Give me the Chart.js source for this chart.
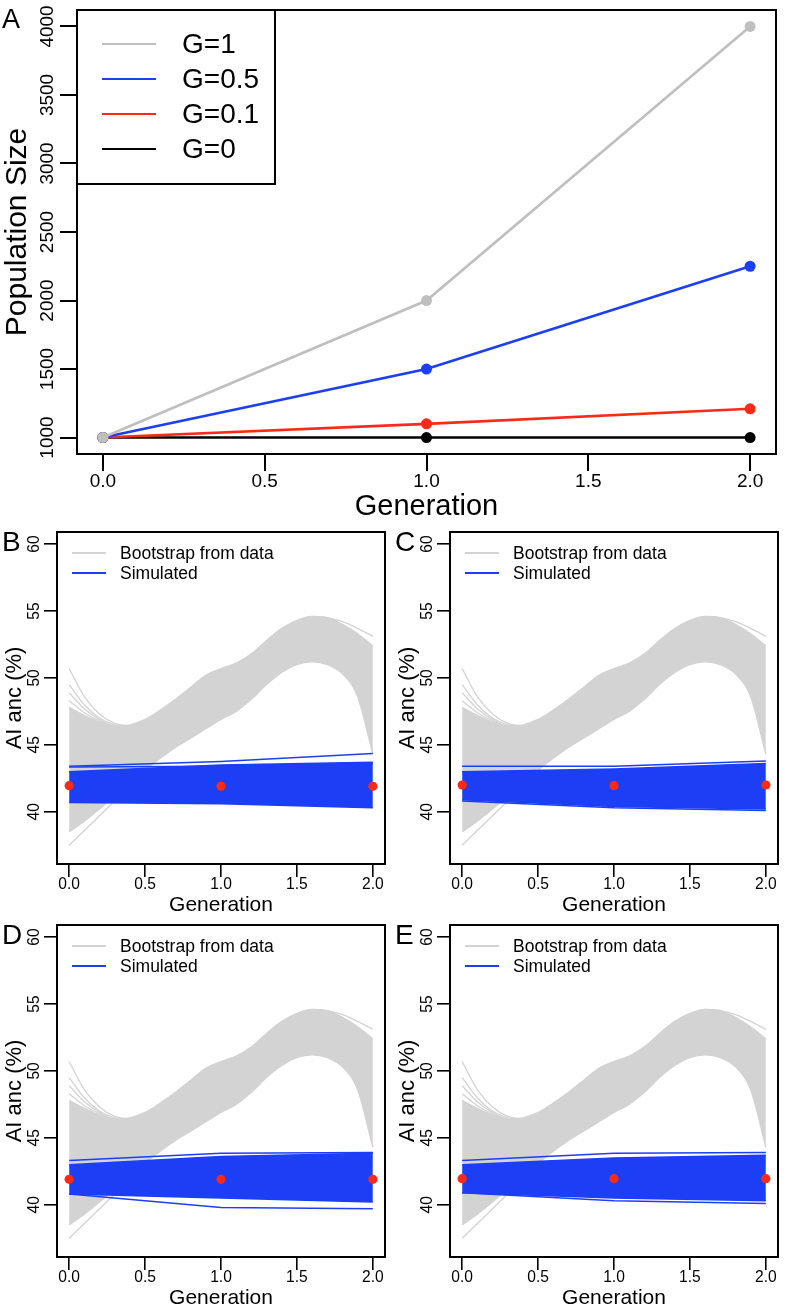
<!DOCTYPE html>
<html><head><meta charset="utf-8">
<script src="https://cdn.jsdelivr.net/npm/chart.js@4.4.1/dist/chart.umd.min.js"></script>
<style>
html,body{margin:0;padding:0;background:#fff;}
body{width:786px;height:1310px;position:relative;overflow:hidden;}
canvas{position:absolute;}
</style></head>
<body>
<canvas id="cA" width="786" height="521" style="left:0;top:0"></canvas>
<canvas id="cB" width="393" height="397" style="left:0;top:520px"></canvas>
<canvas id="cC" width="393" height="397" style="left:393px;top:520px"></canvas>
<canvas id="cD" width="393" height="397" style="left:0;top:913px"></canvas>
<canvas id="cE" width="393" height="397" style="left:393px;top:913px"></canvas>
<script>
// ---------- Panel A data ----------
const generations = [0, 1, 2];
const popG1  = [1000, 2000, 4000];
const popG05 = [1000, 1500, 2250];
const popG01 = [1000, 1100, 1210];
const popG0  = [1000, 1000, 1000];
const popTicks = [1000, 1500, 2000, 2500, 3000, 3500, 4000];
const genTicks = [0, 0.5, 1, 1.5, 2];
const legendA = ['G=1', 'G=0.5', 'G=0.1', 'G=0'];

// ---------- Panels B-E data ----------
const ancTicks = [40, 45, 50, 55, 60];
const legendSmall = ['Bootstrap from data', 'Simulated'];
// bootstrap band envelope
const bootX     = [0, 0.1, 0.2, 0.3, 0.4, 0.5, 0.6, 0.7, 0.8, 0.9, 1.0, 1.1, 1.2, 1.3, 1.4, 1.5, 1.6, 1.7, 1.8, 1.9, 2.0];
const bootUpper = [47.8, 47.2, 46.7, 46.4, 46.5, 46.9, 47.6, 48.4, 49.3, 50.2, 50.7, 51.1, 51.8, 52.8, 53.7, 54.3, 54.6, 54.5, 54.0, 53.3, 52.4];
const bootLower = [38.5, 39.3, 40.2, 41.2, 42.2, 43.1, 44.0, 44.8, 45.5, 46.2, 46.9, 47.5, 48.4, 49.5, 50.4, 51.0, 51.2, 51.0, 50.3, 48.6, 44.3];
// individual bootstrap curves standing out of the band
const fanX  = [0, 0.1, 0.2, 0.3, 0.4];
const fan1  = [50.7, 48.6, 47.3, 46.6, 46.4];
const fan2  = [49.5, 48.0, 47.0, 46.5, 46.4];
const fan3  = [48.9, 47.7, 46.9, 46.4, 46.4];
const fan4  = [48.3, 47.4, 46.8, 46.4, 46.4];
const lowX  = [0, 0.1, 0.2, 0.3, 0.4, 0.5];
const low1  = [37.5, 38.6, 39.7, 40.8, 41.9, 43.0];
const tailX = [1.6, 1.7, 1.8, 1.9, 2.0];
const tail1 = [54.6, 54.5, 54.2, 53.7, 53.1];

// simulated bands (x = generations)
const simB_upper = [43.0, 43.5, 43.7];
const simB_lower = [40.7, 40.6, 40.3];
const simB_out1  = [43.4, 43.75, 44.35];
const simB_out2  = [43.35, 43.4, 43.6];
const obsB       = [41.95, 41.9, 41.9];

const simC_upper = [43.0, 43.2, 43.6];
const simC_lower = [40.9, 40.4, 40.2];
const simC_out1  = [43.4, 43.4, 43.8];
const simC_out2  = [40.8, 40.3, 40.1];
const obsC       = [42.0, 41.95, 42.0];

const simD_upper = [43.0, 43.6, 43.85];
const simD_lower = [40.8, 40.5, 40.2];
const simD_out1  = [43.3, 43.85, 43.9];
const simD_out2  = [40.8, 39.8, 39.7];
const obsD       = [41.9, 41.9, 41.9];

const simE_upper = [43.0, 43.5, 43.7];
const simE_lower = [40.9, 40.5, 40.3];
const simE_out1  = [43.3, 43.85, 43.9];
const simE_out2  = [40.9, 40.3, 40.1];
const obsE       = [41.95, 41.95, 41.95];

// ---------- styling ----------
const FONT = "'Liberation Sans', Arial, Helvetica, sans-serif";
const GRAY_A = '#bfbfbf';
const GRAY_B = '#d3d3d3';
const BLUE = '#1c3ef5';
const RED = '#fb2a16';
const BLACK = '#000000';

const pts = (xs, ys) => xs.map((x, i) => ({x, y: ys[i]}));
const fixTicks = arr => (scale) => { scale.ticks = arr.map(v => ({value: v})); };
// later datasets in the list are painted on top
const stack = list => list.map((d, i) => Object.assign(d, {order: list.length - i}));

// ---------- Panel A ----------
function lineA(label, ys, color) {
  return {label, data: pts(generations, ys), borderColor: color, backgroundColor: color,
    borderWidth: 2.6, pointRadius: 5.5, pointBorderWidth: 0, pointBackgroundColor: color,
    tension: 0, fill: false};
}
const colorsA = {'G=1': GRAY_A, 'G=0.5': BLUE, 'G=0.1': RED, 'G=0': BLACK};

const decorA = {
  id: 'decorA',
  afterDraw(chart) {
    const {ctx, chartArea: a} = chart;
    ctx.save();
    ctx.strokeStyle = BLACK; ctx.lineWidth = 2;
    ctx.strokeRect(a.left, a.top, a.right - a.left, a.bottom - a.top);
    // legend box
    ctx.fillStyle = '#fff';
    ctx.fillRect(a.left, a.top, 198, 174);
    ctx.strokeRect(a.left, a.top, 198, 174);
    ctx.font = `28px ${FONT}`;
    ctx.textBaseline = 'middle';
    legendA.forEach((lab, i) => {
      const y = 44 + i * 35;
      ctx.strokeStyle = colorsA[lab]; ctx.lineWidth = 2.2;
      ctx.beginPath(); ctx.moveTo(102, y); ctx.lineTo(156, y); ctx.stroke();
      ctx.fillStyle = BLACK;
      ctx.fillText(lab, 182, y + 1);
    });
    ctx.font = `27px ${FONT}`;
    ctx.fillText('A', 2, 21);
    ctx.restore();
  }
};

new Chart(document.getElementById('cA'), {
  type: 'line',
  data: {datasets: stack([lineA('G=0', popG0, BLACK), lineA('G=0.1', popG01, RED), lineA('G=0.5', popG05, BLUE), lineA('G=1', popG1, GRAY_A)])},
  options: {
    responsive: false, animation: false, events: [],
    layout: {padding: {left: 0, top: 10, right: 10, bottom: 0}},
    plugins: {legend: {display: false}, tooltip: {enabled: false}},
    scales: {
      x: {type: 'linear', min: -0.08, max: 2.08,
        afterBuildTicks: fixTicks(genTicks),
        afterFit: s => { s.height = 67; },
        grid: {drawOnChartArea: false, drawTicks: true, tickLength: 17, color: BLACK, lineWidth: 2},
        border: {display: false},
        ticks: {autoSkip: false, maxRotation: 0, color: BLACK, padding: 1.5,
          font: {family: FONT, size: 19, lineHeight: 1}, callback: v => Number(v).toFixed(1)},
        title: {display: true, text: 'Generation', color: BLACK, padding: {top: 0, bottom: 0},
          font: {family: FONT, size: 29, lineHeight: 1}}
      },
      y: {type: 'linear', min: 880, max: 4120,
        afterBuildTicks: fixTicks(popTicks),
        afterFit: s => { s.width = 77; },
        grid: {drawOnChartArea: false, drawTicks: true, tickLength: 17, color: BLACK, lineWidth: 2},
        border: {display: false},
        ticks: {autoSkip: false, minRotation: 90, maxRotation: 90, crossAlign: 'center', padding: -9,
          color: BLACK, font: {family: FONT, size: 19, lineHeight: 1}, callback: v => String(v)},
        title: {display: true, text: 'Population Size', color: BLACK, padding: {top: 3, bottom: 0},
          font: {family: FONT, size: 30, lineHeight: 1}}
      }
    }
  },
  plugins: [decorA]
});

// ---------- Panels B-E ----------
function grayLine(xs, ys, fill) {
  return {data: pts(xs, ys), borderColor: GRAY_B, backgroundColor: GRAY_B, borderWidth: 1.3,
    pointRadius: 0, cubicInterpolationMode: 'monotone', fill: fill || false};
}
function blueLine(ys, fill) {
  return {data: pts(generations, ys), borderColor: BLUE, backgroundColor: BLUE, borderWidth: 1.5,
    pointRadius: 0, tension: 0, fill: fill || false};
}

function smallDecor(letter) {
  return {
    id: 'decor' + letter,
    afterDraw(chart) {
      const {ctx, chartArea: a} = chart;
      ctx.save();
      ctx.strokeStyle = BLACK; ctx.lineWidth = 2;
      ctx.strokeRect(a.left, a.top, a.right - a.left, a.bottom - a.top);
      ctx.font = `17.5px ${FONT}`;
      ctx.textBaseline = 'middle';
      [[GRAY_B, legendSmall[0], 33], [BLUE, legendSmall[1], 53]].forEach(([c, t, y]) => {
        ctx.strokeStyle = c; ctx.lineWidth = 2;
        ctx.beginPath(); ctx.moveTo(72, y); ctx.lineTo(106, y); ctx.stroke();
        ctx.fillStyle = BLACK;
        ctx.fillText(t, 120, y + 1);
      });
      ctx.font = `28px ${FONT}`;
      ctx.fillText(letter, 2, 23);
      ctx.restore();
    }
  };
}

function smallChart(id, letter, up, lo, out1, out2, obs) {
  new Chart(document.getElementById(id), {
    type: 'line',
    data: {datasets: stack([
      grayLine(bootX, bootLower),
      grayLine(bootX, bootUpper, '-1'),
      grayLine(fanX, fan1), grayLine(fanX, fan2), grayLine(fanX, fan3), grayLine(fanX, fan4),
      grayLine(lowX, low1), grayLine(tailX, tail1),
      blueLine(lo),
      blueLine(up, '-1'),
      blueLine(out1), blueLine(out2),
      {data: pts(generations, obs), showLine: false, pointRadius: 4.6, pointBorderWidth: 0,
        pointBackgroundColor: RED, backgroundColor: RED, borderColor: RED, clip: false}
    ])},
    options: {
      responsive: false, animation: false, events: [],
      layout: {padding: {left: 0, top: 12, right: 8, bottom: 0}},
      plugins: {legend: {display: false}, tooltip: {enabled: false}},
      scales: {
        x: {type: 'linear', min: -0.08, max: 2.08,
          afterBuildTicks: fixTicks(genTicks),
          afterFit: s => { s.height = 53; },
          grid: {drawOnChartArea: false, drawTicks: true, tickLength: 13, color: BLACK, lineWidth: 1.6},
          border: {display: false},
          ticks: {autoSkip: false, maxRotation: 0, color: BLACK, padding: 0.2,
            font: {family: FONT, size: 15.6, lineHeight: 1}, callback: v => Number(v).toFixed(1)},
          title: {display: true, text: 'Generation', color: BLACK, padding: {top: 0, bottom: 1.5},
            font: {family: FONT, size: 21, lineHeight: 1}}
        },
        y: {type: 'linear', min: 36.1, max: 60.9,
          afterBuildTicks: fixTicks(ancTicks),
          afterFit: s => { s.width = 57; },
          grid: {drawOnChartArea: false, drawTicks: true, tickLength: 13, color: BLACK, lineWidth: 1.6},
          border: {display: false},
          ticks: {autoSkip: false, minRotation: 90, maxRotation: 90, crossAlign: 'center', padding: 0.3,
            color: BLACK, font: {family: FONT, size: 15.6, lineHeight: 1}, callback: v => String(v)},
          title: {display: true, text: 'AI anc (%)', color: BLACK, padding: {top: 4, bottom: 0},
            font: {family: FONT, size: 22, lineHeight: 1}}
        }
      }
    },
    plugins: [smallDecor(letter)]
  });
}

smallChart('cB', 'B', simB_upper, simB_lower, simB_out1, simB_out2, obsB);
smallChart('cC', 'C', simC_upper, simC_lower, simC_out1, simC_out2, obsC);
smallChart('cD', 'D', simD_upper, simD_lower, simD_out1, simD_out2, obsD);
smallChart('cE', 'E', simE_upper, simE_lower, simE_out1, simE_out2, obsE);
</script>
</body></html>
